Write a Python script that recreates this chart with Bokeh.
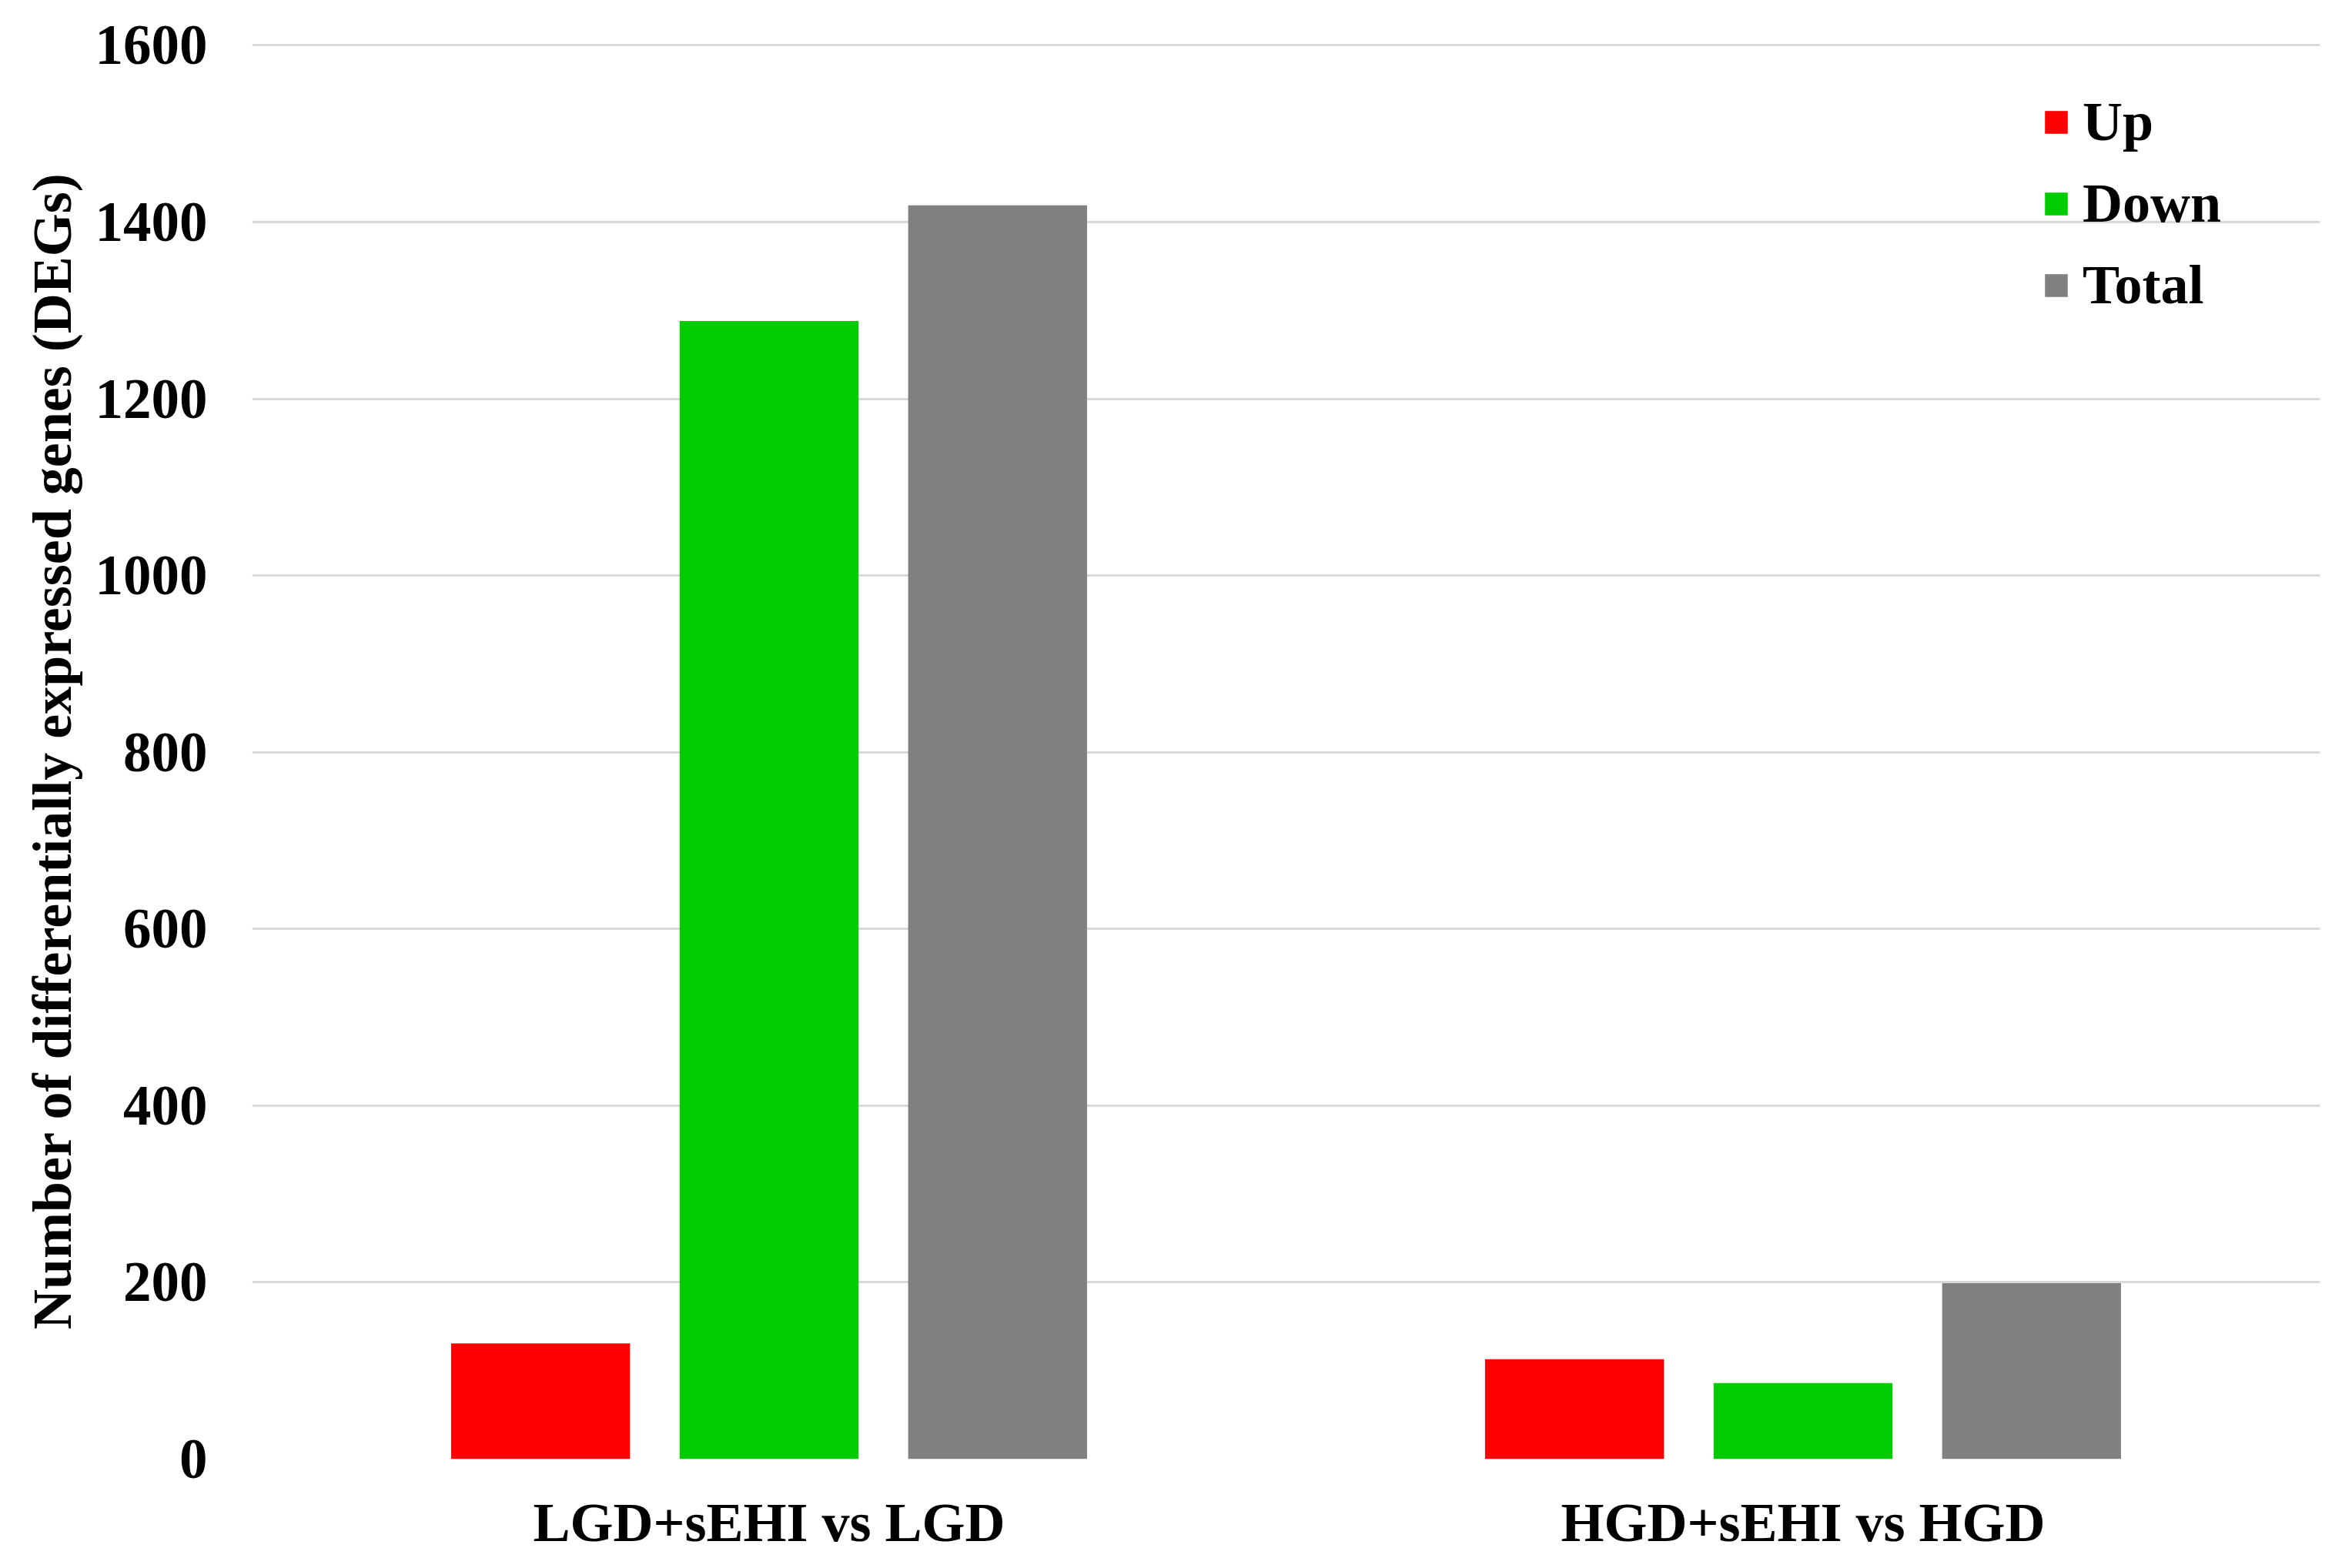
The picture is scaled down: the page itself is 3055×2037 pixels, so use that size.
from bokeh.plotting import figure
from bokeh.models import FactorRange, FixedTicker, ColumnDataSource
from bokeh.transform import dodge
from bokeh.embed import file_html
from bokeh.resources import INLINE

# ---- data ----
categories = ["LGD+sEHI vs LGD", "HGD+sEHI vs HGD"]
series = ["Up", "Down", "Total"]
up_values = [131, 113]
down_values = [1288, 86]
total_values = [1419, 199]
y_ticks = [0, 200, 400, 600, 800, 1000, 1200, 1400, 1600]
y_label = "Number of differentially expressed genes (DEGs)"

colors = {"Up": "#FF0000", "Down": "#00CC00", "Total": "#808080"}
offsets = {"Up": -0.221, "Down": 0.0, "Total": 0.221}

source = ColumnDataSource(dict(cat=categories, Up=up_values, Down=down_values, Total=total_values))

FONT = "Liberation Serif"

p = figure(
    x_range=FactorRange(*categories),
    y_range=(0, 1603),
    width=3039, height=2021,
    output_backend="svg",
    toolbar_location=None,
    min_border_left=327, min_border_right=26,
    min_border_top=55, min_border_bottom=126,
)
p.x_range.range_padding = 0

for s in series:
    p.vbar(x=dodge("cat", offsets[s], range=p.x_range), top=s, width=0.173,
           source=source, color=colors[s], line_color=None, legend_label=s)

p.outline_line_color = None
p.background_fill_color = "white"
p.border_fill_color = "white"

p.xgrid.grid_line_color = None
p.ygrid.grid_line_color = "#D9D9D9"
p.ygrid.grid_line_width = 3

p.yaxis.ticker = FixedTicker(ticks=y_ticks)
p.yaxis.axis_label = y_label

for ax in (p.xaxis[0], p.yaxis[0]):
    ax.axis_line_color = None
    ax.major_tick_line_color = None
    ax.minor_tick_line_color = None
    ax.major_tick_out = 0
    ax.major_tick_in = 0
    ax.major_label_text_font = FONT
    ax.major_label_text_font_style = "bold"
    ax.major_label_text_font_size = "72px"
    ax.major_label_text_color = "black"
    ax.axis_label_text_font = FONT
    ax.axis_label_text_font_style = "bold"
    ax.axis_label_text_font_size = "72px"
    ax.axis_label_text_color = "black"

p.yaxis.major_label_text_font_size = "73px"
p.yaxis.major_label_standoff = 58
p.yaxis.axis_label_standoff = 13
p.xaxis.major_label_standoff = 42

leg = p.legend[0]
leg.location = (2325, 1483)
leg.border_line_color = None
leg.background_fill_alpha = 0
leg.padding = 0
leg.margin = 0
leg.glyph_width = 37
leg.glyph_height = 37
leg.label_standoff = 16
leg.spacing = 22
leg.label_height = 84
leg.label_text_font = FONT
leg.label_text_font_style = "bold"
leg.label_text_font_size = "72px"
leg.label_text_color = "black"
leg.label_text_baseline = "middle"

open("out.html", "w").write(file_html(p, INLINE))
